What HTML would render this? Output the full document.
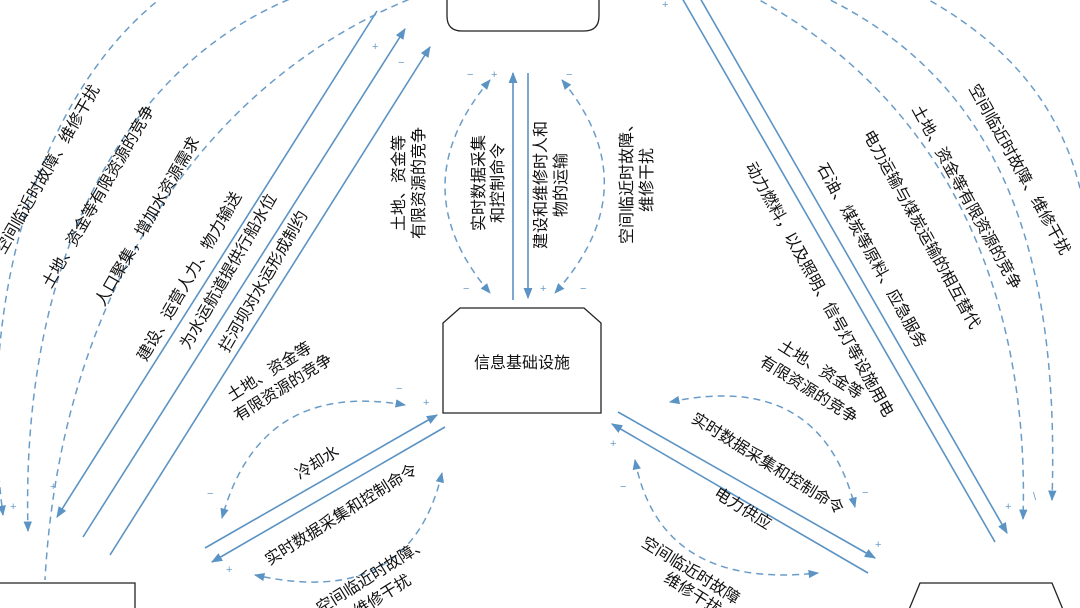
<!DOCTYPE html>
<html><head><meta charset="utf-8"><style>
html,body{margin:0;padding:0;background:#fff;}
svg{display:block;}
text{font-family:"Liberation Sans","Noto Sans CJK SC",sans-serif;fill:#111;font-size:16px;}
.s{stroke:#5b93c4;stroke-width:1.6;fill:none;}
.d{stroke:#6a9cc8;stroke-width:1.5;fill:none;stroke-dasharray:7 5;}
.b{stroke:#222;stroke-width:1.3;fill:#fff;}
.pm{font-size:11px;fill:#6a9cc8;}
</style></head><body>
<svg width="1080" height="608" viewBox="0 0 1080 608" xmlns="http://www.w3.org/2000/svg">
<defs>
<marker id="a" viewBox="0 0 10 10" refX="9" refY="5" markerWidth="7" markerHeight="7" orient="auto-start-reverse"><path d="M0,1 L10,5 L0,9 z" fill="#5b93c4"/></marker>
</defs>

<!-- boxes -->
<path class="b" d="M447,-2 L447,16 Q447,31 462,31 L584,31 Q599,31 599,16 L599,-2"/>
<path class="b" d="M460,308 L584,308 L601,323 L601,413 L443,413 L443,323 Z"/>
<text x="522" y="368" text-anchor="middle" font-size="17">信息基础设施</text>
<path class="b" d="M-2,583 L135,583 L135,612"/>
<path class="b" d="M908,612 L920,583 L1052,583 L1064,612"/>

<!-- left group solid -->
<line class="s" x1="377" y1="11" x2="57" y2="517" marker-end="url(#a)"/>
<line class="s" x1="83" y1="537" x2="405" y2="29" marker-end="url(#a)"/>
<line class="s" x1="110" y1="555" x2="430" y2="47" marker-end="url(#a)"/>
<!-- left dashed arcs -->
<path class="d" d="M165,-5 C40,90 -25,300 3,515" marker-end="url(#a)"/>
<path class="d" d="M300,-5 C130,60 20,250 28,531" marker-end="url(#a)"/>
<path class="d" d="M420,-5 C200,80 60,300 45,580"/>
<text class="pm" x="372" y="50">+</text><text class="pm" x="398" y="66">−</text>
<text class="pm" x="50" y="490">+</text><text class="pm" x="10" y="510">+</text>

<text transform="translate(52,172) rotate(-60)" text-anchor="middle" font-size="17">空间临近时故障、维修干扰</text>
<text transform="translate(103,199) rotate(-60)" text-anchor="middle" font-size="17">土地、资金等有限资源的竞争</text>
<text transform="translate(152,224) rotate(-60)" text-anchor="middle" font-size="17">人口聚集，增加水资源需求</text>
<text transform="translate(194,279) rotate(-60)" text-anchor="middle" font-size="17">建设、运营人力、物力输送</text>
<text transform="translate(233,274) rotate(-60)" text-anchor="middle" font-size="17">为水运航道提供行船水位</text>
<text transform="translate(268,284) rotate(-60)" text-anchor="middle" font-size="17">拦河坝对水运形成制约</text>

<!-- top center -->
<line class="s" x1="513" y1="300" x2="513" y2="73" marker-end="url(#a)"/>
<line class="s" x1="528" y1="73" x2="528" y2="298" marker-end="url(#a)"/>
<path class="d" d="M490,80 Q400,187 490,293" marker-start="url(#a)" marker-end="url(#a)"/>
<path class="d" d="M562,80 Q650,187 555,293" marker-start="url(#a)" marker-end="url(#a)"/>
<text class="pm" x="491" y="78">+</text><text class="pm" x="467" y="78">−</text>
<text class="pm" x="540" y="292">+</text><text class="pm" x="566" y="78">−</text>
<text class="pm" x="463" y="292">−</text><text class="pm" x="580" y="292">−</text>
<text transform="translate(404,183) rotate(-90)" text-anchor="middle" font-size="16">土地、资金等</text>
<text transform="translate(424,183) rotate(-90)" text-anchor="middle" font-size="16">有限资源的竞争</text>
<text transform="translate(484,183) rotate(-90)" text-anchor="middle" font-size="16">实时数据采集</text>
<text transform="translate(503,183) rotate(-90)" text-anchor="middle" font-size="16">和控制命令</text>
<text transform="translate(546,185) rotate(-90)" text-anchor="middle" font-size="16">建设和维修时人和</text>
<text transform="translate(566,185) rotate(-90)" text-anchor="middle" font-size="16">物的运输</text>
<text transform="translate(632,180) rotate(-90)" text-anchor="middle" font-size="16">空间临近时故障、</text>
<text transform="translate(652,180) rotate(-90)" text-anchor="middle" font-size="16">维修干扰</text>

<!-- right group -->
<line class="s" x1="682" y1="-2" x2="995" y2="542"/>
<line class="s" x1="700" y1="-2" x2="1007" y2="533" marker-end="url(#a)"/>
<path class="d" d="M750,-5 C950,100 1030,300 1023,519" marker-end="url(#a)"/>
<path class="d" d="M820,-5 C1000,80 1060,250 1052,500" marker-end="url(#a)"/>
<path class="d" d="M920,-5 C1040,60 1085,150 1090,260"/>
<text class="pm" x="662" y="8">+</text>
<text class="pm" x="1005" y="510">+</text><text class="pm" x="1033" y="500">\</text>
<text transform="translate(1015,172) rotate(61)" text-anchor="middle" font-size="17">空间临近时故障、维修干扰</text>
<text transform="translate(962,200) rotate(61)" text-anchor="middle" font-size="17">土地、资金等有限资源的竞争</text>
<text transform="translate(917,232) rotate(61)" text-anchor="middle" font-size="17">电力运输与煤炭运输的相互替代</text>
<text transform="translate(867,258) rotate(61)" text-anchor="middle" font-size="17">石油、煤炭等原料、应急服务</text>
<text transform="translate(815,292) rotate(61)" text-anchor="middle" font-size="17">动力燃料，以及照明、信号灯等设施用电</text>

<!-- bottom-left group -->
<line class="s" x1="205" y1="548" x2="437" y2="415" marker-end="url(#a)"/>
<line class="s" x1="445" y1="427" x2="212" y2="562" marker-end="url(#a)"/>
<path class="d" d="M405,405 Q260,380 222,518" marker-start="url(#a)" marker-end="url(#a)"/>
<path class="d" d="M442,473 Q410,610 255,575" marker-start="url(#a)" marker-end="url(#a)"/>
<text class="pm" x="423" y="406">+</text><text class="pm" x="396" y="392">−</text>
<text class="pm" x="226" y="573">+</text><text class="pm" x="207" y="497">−</text>
<text transform="translate(272,376) rotate(-32)" text-anchor="middle" font-size="16">土地、资金等</text>
<text transform="translate(286,392) rotate(-32)" text-anchor="middle" font-size="16">有限资源的竞争</text>
<text transform="translate(320,467) rotate(-32)" text-anchor="middle" font-size="16">冷却水</text>
<text transform="translate(344,519) rotate(-32)" text-anchor="middle" font-size="16">实时数据采集和控制命令</text>
<text transform="translate(375,580) rotate(-32)" text-anchor="middle" font-size="16">空间临近时故障、</text>
<text transform="translate(385,600) rotate(-32)" text-anchor="middle" font-size="16">维修干扰</text>

<!-- bottom-right group -->
<line class="s" x1="618" y1="412" x2="875" y2="558" marker-end="url(#a)"/>
<line class="s" x1="868" y1="573" x2="612" y2="424" marker-end="url(#a)"/>
<path class="d" d="M670,402 Q820,370 855,507" marker-start="url(#a)" marker-end="url(#a)"/>
<path class="d" d="M635,460 Q660,590 818,573" marker-start="url(#a)" marker-end="url(#a)"/>
<text class="pm" x="610" y="447">+</text><text class="pm" x="875" y="548">+</text>
<text class="pm" x="862" y="496">−</text><text class="pm" x="620" y="490">−</text>
<text transform="translate(818,374) rotate(32)" text-anchor="middle" font-size="16">土地、资金等</text>
<text transform="translate(806,394) rotate(32)" text-anchor="middle" font-size="16">有限资源的竞争</text>
<text transform="translate(765,468) rotate(32)" text-anchor="middle" font-size="16">实时数据采集和控制命令</text>
<text transform="translate(740,513) rotate(32)" text-anchor="middle" font-size="16">电力供应</text>
<text transform="translate(688,575) rotate(32)" text-anchor="middle" font-size="16">空间临近时故障</text>
<text transform="translate(690,598) rotate(32)" text-anchor="middle" font-size="16">维修干扰</text>
</svg>
</body></html>
